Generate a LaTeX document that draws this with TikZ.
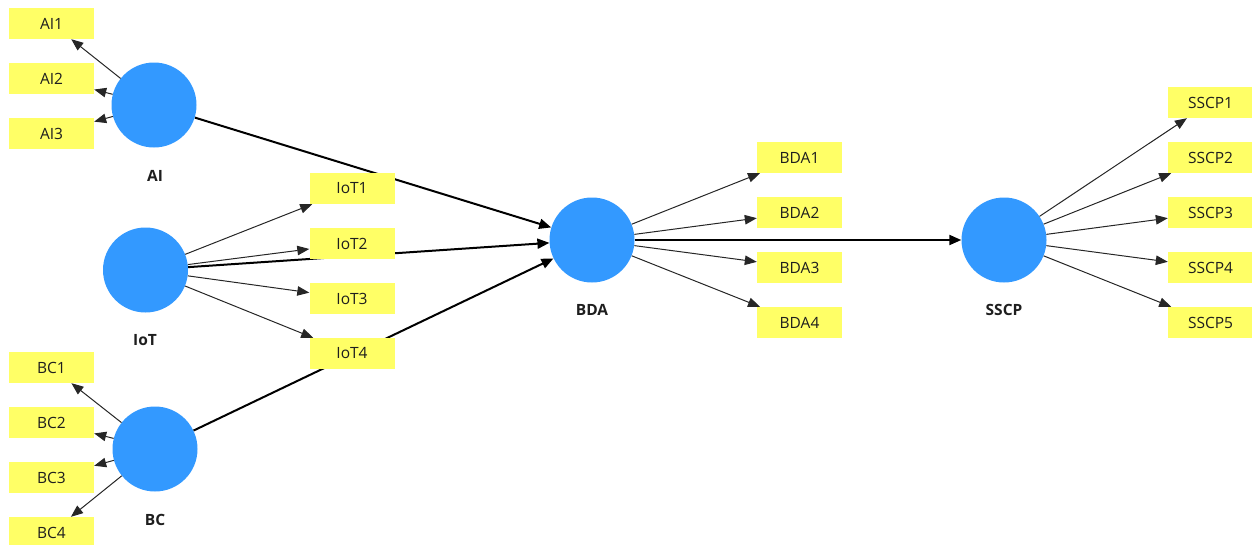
\documentclass[tikz,border=0pt]{standalone}
\usepackage{fontspec}
\setmainfont{Open Sans}
\usetikzlibrary{arrows.meta,backgrounds}
\definecolor{lvblue}{RGB}{51,153,255}
\definecolor{mvyellow}{RGB}{255,255,102}
\definecolor{txt}{RGB}{30,30,30}
\tikzset{
  latent/.style={circle,fill=lvblue,minimum size=85pt,inner sep=0pt},
  indicator/.style={rectangle,fill=mvyellow,minimum width=85pt,minimum height=31pt,inner sep=0pt,font=\fontsize{15.5}{17}\selectfont,text=txt},
  lvname/.style={font=\fontsize{15.5}{17}\selectfont\bfseries,text=txt},
  load/.style={draw=black!85,line width=1pt,-{Triangle[length=12pt,width=9.5pt]}},
  path/.style={draw=black,line width=2pt,-{Triangle[length=12pt,width=10pt]}}
}
\begin{document}
\begin{tikzpicture}[x=1pt,y=-1pt]
\useasboundingbox (0,0) rectangle (1252,544);

% latent variables
\node[latent] (AI)   at (154,105) {};
\node[latent] (IoT)  at (145.5,270) {};
\node[latent] (BC)   at (155,449) {};
\node[latent] (BDA)  at (592,240) {};
\node[latent] (SSCP) at (1004,240) {};

\node[lvname] (AIn)   at (155,176) {AI};
\node[lvname] (IoTn)  at (145,340) {IoT};
\node[lvname] (BCn)   at (155,520) {BC};
\node[lvname] (BDAn)  at (592,310) {BDA};
\node[lvname] (SSCPn) at (1004,310) {SSCP};

% indicators
\node[indicator] (AI1) at (51.5,23.5) {AI1};
\node[indicator] (AI2) at (51.5,78.5) {AI2};
\node[indicator] (AI3) at (51.5,133.5) {AI3};

\node[indicator] (IoT1) at (352,188.5) {IoT1};
\node[indicator] (IoT2) at (352,243.5) {IoT2};
\node[indicator] (IoT3) at (352,298.5) {IoT3};
\node[indicator] (IoT4) at (352,353.5) {IoT4};

\node[indicator] (BC1) at (51.5,367.5) {BC1};
\node[indicator] (BC2) at (51.5,422.5) {BC2};
\node[indicator] (BC3) at (51.5,477.5) {BC3};
\node[indicator] (BC4) at (51.5,532.5) {BC4};

\node[indicator] (BDA1) at (799.5,157.5) {BDA1};
\node[indicator] (BDA2) at (799.5,212.5) {BDA2};
\node[indicator] (BDA3) at (799.5,267.5) {BDA3};
\node[indicator] (BDA4) at (799.5,322.5) {BDA4};

\node[indicator] (SSCP1) at (1210.5,102.5) {SSCP1};
\node[indicator] (SSCP2) at (1210.5,157.5) {SSCP2};
\node[indicator] (SSCP3) at (1210.5,212.5) {SSCP3};
\node[indicator] (SSCP4) at (1210.5,267.5) {SSCP4};
\node[indicator] (SSCP5) at (1210.5,322.5) {SSCP5};

% structural paths run beneath the indicator boxes
\begin{scope}[on background layer]
  \draw[path] (AI) -- (BDA);
  \draw[path] (IoT) -- (BDA);
  \draw[path] (BC) -- (BDA);
  \draw[path] (BDA) -- (SSCP);
\end{scope}

% loadings
\foreach \i in {1,2,3} \draw[load] (AI) -- (AI\i);
\foreach \i in {1,2,3,4} \draw[load] (IoT) -- (IoT\i);
\foreach \i in {1,2,3,4} \draw[load] (BC) -- (BC\i);
\foreach \i in {1,2,3,4} \draw[load] (BDA) -- (BDA\i);
\foreach \i in {1,2,3,4,5} \draw[load] (SSCP) -- (SSCP\i);
\end{tikzpicture}
\end{document}
